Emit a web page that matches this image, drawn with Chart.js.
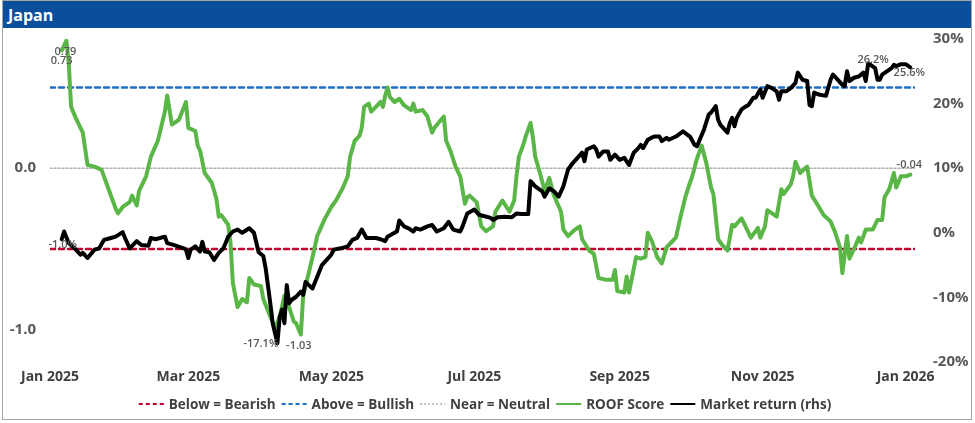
<!DOCTYPE html>
<html>
<head>
<meta charset="utf-8">
<title>Japan</title>
<script src="https://cdn.jsdelivr.net/npm/chart.js@4"></script>
<style>
  html, body { margin: 0; padding: 0; background: #fff; }
  body { width: 975px; height: 423px; position: relative; overflow: hidden; font-family: "Open Sans", sans-serif; }
  #frame { position: absolute; left: 2px; top: 0; width: 970px; height: 420px; border: 1px solid #a6a6a6; box-sizing: border-box; }
  #head { height: 27px; background: #0a4f9c; color: #fff; font-weight: 700; font-size: 16px; line-height: 28px; padding-left: 5px; }
  #chart { position: absolute; left: 0; top: 0; }
</style>
</head>
<body>
<div id="frame"><div id="head">Japan</div></div>
<canvas id="chart" width="975" height="423"></canvas>
<script>
// days counted from 1 Jan 2025
const tickDays = [0, 59, 120, 181, 243, 304, 365];
const tickLabels = ['Jan 2025', 'Mar 2025', 'May 2025', 'Jul 2025', 'Sep 2025', 'Nov 2025', 'Jan 2026'];
const axisEnd = 369;

const bearishLevel = -0.5;
const bullishLevel = 0.5;
const neutralLevel = 0;

const scoreDays = [5,7,8,9,11,14,16,19,22,24,28,29,31,34,35,37,38,41,43,46,49,50,52,55,58,59,62,63,64,66,69,71,72,73,76,77,78,80,82,84,85,87,90,91,94,96,98,100,102,104,105,107,108,110,112,114,117,120,122,125,127,128,130,132,133,134,136,137,139,141,142,143,144,145,147,149,151,154,155,156,159,161,163,164,168,169,171,173,175,177,178,179,182,184,186,189,190,193,196,198,199,200,202,203,205,206,207,209,211,213,215,218,219,221,224,226,227,230,232,234,237,240,241,242,245,246,247,250,252,254,255,257,259,261,263,265,267,269,271,273,274,276,278,280,282,283,285,287,289,291,292,295,296,299,302,303,305,306,310,312,313,316,317,318,320,323,325,328,330,333,335,337,338,340,341,343,345,346,348,351,353,355,356,358,360,361,363,365,367];
const scoreValues = [0.73,0.79,0.65,0.38,0.31,0.22,0.02,0.01,-0.01,-0.09,-0.25,-0.28,-0.24,-0.21,-0.17,-0.23,-0.14,-0.05,0.07,0.17,0.35,0.45,0.27,0.30,0.41,0.25,0.23,0.14,0.11,-0.03,-0.09,-0.19,-0.30,-0.29,-0.35,-0.46,-0.71,-0.86,-0.81,-0.83,-0.68,-0.72,-0.73,-0.81,-0.92,-0.99,-0.92,-0.79,-0.86,-0.95,-0.96,-1.03,-0.79,-0.67,-0.55,-0.42,-0.32,-0.24,-0.20,-0.12,-0.05,0.07,0.17,0.20,0.25,0.38,0.40,0.35,0.38,0.41,0.38,0.45,0.50,0.44,0.41,0.43,0.39,0.36,0.40,0.35,0.36,0.32,0.22,0.25,0.32,0.17,0.10,0.01,-0.05,-0.22,-0.18,-0.17,-0.21,-0.36,-0.39,-0.36,-0.27,-0.20,-0.27,-0.20,-0.05,0.07,0.15,0.20,0.28,0.19,0.07,-0.03,-0.14,-0.06,-0.17,-0.27,-0.38,-0.42,-0.38,-0.36,-0.44,-0.51,-0.53,-0.68,-0.69,-0.69,-0.63,-0.76,-0.77,-0.67,-0.77,-0.55,-0.56,-0.55,-0.40,-0.46,-0.55,-0.59,-0.49,-0.46,-0.43,-0.30,-0.18,-0.09,-0.05,0.06,0.14,0.03,-0.12,-0.16,-0.44,-0.48,-0.51,-0.35,-0.36,-0.31,-0.34,-0.43,-0.37,-0.43,-0.36,-0.26,-0.30,-0.13,-0.16,-0.10,-0.05,0.04,-0.03,0.01,-0.17,-0.24,-0.29,-0.33,-0.40,-0.49,-0.65,-0.42,-0.56,-0.50,-0.43,-0.46,-0.38,-0.38,-0.32,-0.32,-0.18,-0.13,-0.03,-0.12,-0.05,-0.05,-0.04];

const returnDays = [5,6,8,11,13,14,16,19,21,23,26,28,31,32,34,37,39,42,43,45,49,50,53,57,58,59,60,62,64,65,66,68,70,72,74,76,78,80,82,85,87,89,91,92,94,95,97,98,99,100,101,102,103,105,107,108,109,111,112,114,116,118,120,121,124,127,129,131,133,135,139,141,143,144,146,148,149,151,153,155,156,158,161,163,165,168,170,172,175,176,178,181,183,185,188,189,191,194,197,199,201,204,205,207,210,211,213,215,217,219,221,223,225,227,228,229,232,233,234,236,238,239,241,243,245,247,249,251,252,253,255,257,258,260,261,263,264,267,270,273,275,276,279,281,282,284,285,286,289,290,291,292,293,295,297,298,300,301,303,304,306,308,310,311,312,314,316,318,319,321,323,324,325,326,328,331,333,334,336,338,339,340,341,343,345,347,348,349,350,352,353,354,355,357,359,360,361,363,365,367];
const returnValues = [-1.0,0.2,-1.6,-2.6,-3.4,-3.1,-3.9,-2.6,-2.4,-1.1,-0.8,-0.6,0.1,-0.8,-2.4,-1.3,-1.9,-2.0,-0.8,-1.0,-0.6,-1.6,-1.9,-2.4,-2.6,-3.9,-2.6,-2.1,-2.9,-1.4,-2.9,-3.0,-4.2,-3.1,-2.4,-0.6,0.2,0.5,0.0,0.7,0.0,-3.0,-3.6,-5.5,-11.0,-14.0,-17.1,-13.0,-11.9,-14.0,-8.1,-10.9,-10.4,-9.9,-9.1,-9.6,-7.6,-8.3,-8.6,-6.8,-5.0,-4.2,-3.4,-2.6,-2.4,-2.1,-1.1,-0.8,0.5,-0.8,-0.8,-1.0,-1.3,-0.6,-0.2,0.2,1.9,1.0,0.7,0.2,0.7,0.5,1.0,1.2,0.2,0.7,1.7,0.5,0.2,1.0,3.0,3.6,2.8,2.6,2.3,2.0,2.4,2.5,2.4,3.0,2.9,2.9,8.0,7.2,6.4,5.6,6.9,6.4,5.6,7.2,9.8,10.8,11.6,12.4,11.1,12.9,13.4,12.9,11.8,12.6,12.6,11.3,12.1,11.3,11.6,10.5,12.4,13.1,13.6,13.1,14.4,14.8,14.9,14.9,14.2,14.7,14.4,14.9,15.7,14.9,13.6,13.4,16.0,18.3,18.6,19.6,17.5,16.7,15.5,17.0,17.8,16.5,17.8,19.1,19.6,19.8,20.9,20.9,22.2,20.9,22.7,22.4,21.9,20.6,21.9,21.9,22.4,23.2,24.8,23.7,23.5,19.8,19.6,21.7,21.4,21.2,23.7,24.5,23.7,22.9,22.7,25.0,23.5,24.0,24.2,24.8,23.5,26.2,26.0,25.5,23.7,23.7,24.5,25.0,25.5,26.0,25.8,26.1,26.1,25.6];

const FONT = '"Open Sans", "Noto Sans", sans-serif';

function toPoints(days, values) {
  return days.map((d, i) => ({ x: d, y: values[i] }));
}

function levelLine(level) {
  return [{ x: 0, y: level }, { x: axisEnd, y: level }];
}

// first, max, min and last value of a series get a small label
function extremes(values) {
  let hi = 0, lo = 0;
  values.forEach((v, i) => {
    if (v > values[hi]) hi = i;
    if (v < values[lo]) lo = i;
  });
  return { first: 0, hi: hi, lo: lo, last: values.length - 1 };
}

const sx = extremes(scoreValues);
const rx = extremes(returnValues);
const fmtScore = v => v.toFixed(2);
const fmtReturn = v => v.toFixed(1) + '%';

const scoreNotes = [
  { index: sx.first, text: fmtScore(scoreValues[sx.first]), dx: 0, dy: 11 },
  { index: sx.hi, text: fmtScore(scoreValues[sx.hi]), dx: -1, dy: 11 },
  { index: sx.lo, text: fmtScore(scoreValues[sx.lo]), dx: -2, dy: 11 },
  { index: sx.last, text: fmtScore(scoreValues[sx.last]), dx: -1, dy: -10 }
];
const returnNotes = [
  { index: rx.first, text: fmtReturn(returnValues[rx.first]), dx: 1, dy: 6 },
  { index: rx.lo, text: fmtReturn(returnValues[rx.lo]), dx: 1, dy: 1, align: 'right' },
  { index: rx.hi, text: fmtReturn(returnValues[rx.hi]), dx: 5, dy: -4 },
  { index: rx.last, text: fmtReturn(returnValues[rx.last]), dx: -1, dy: 5 }
];

const pointNotes = {
  id: 'pointNotes',
  afterDatasetsDraw(chart) {
    const ctx = chart.ctx;
    ctx.save();
    ctx.font = '600 11px ' + FONT;
    ctx.fillStyle = '#595959';
    ctx.textBaseline = 'middle';
    chart.data.datasets.forEach((ds, i) => {
      if (!ds.notes) return;
      const meta = chart.getDatasetMeta(i);
      ds.notes.forEach(n => {
        const pt = meta.data[n.index];
        ctx.textAlign = n.align || 'center';
        ctx.fillText(n.text, pt.x + n.dx, pt.y + n.dy);
      });
    });
    ctx.restore();
  }
};

// key along the bottom, one entry per dataset
const bottomKey = {
  id: 'bottomKey',
  afterDraw(chart) {
    const ctx = chart.ctx;
    ctx.save();
    ctx.font = 'bold 13.5px ' + FONT;
    const sample = 25, gapText = 5, gapItem = 6;
    const items = chart.data.datasets.map(ds => ({ ds: ds, w: sample + gapText + ctx.measureText(ds.label).width }));
    const total = items.reduce((s, it) => s + it.w, 0) + gapItem * (items.length - 1);
    let x = 485 - total / 2;
    const y = 404;
    items.forEach(it => {
      ctx.strokeStyle = it.ds.borderColor;
      ctx.lineWidth = it.ds.keyWidth;
      ctx.setLineDash(it.ds.keyDash || []);
      ctx.beginPath();
      ctx.moveTo(x, y);
      ctx.lineTo(x + sample, y);
      ctx.stroke();
      ctx.setLineDash([]);
      ctx.fillStyle = '#404040';
      ctx.textAlign = 'left';
      ctx.textBaseline = 'middle';
      ctx.fillText(it.ds.label, x + sample + gapText, y + 1);
      x += it.w + gapItem;
    });
    ctx.restore();
  }
};

const ctx = document.getElementById('chart').getContext('2d');
new Chart(ctx, {
  type: 'line',
  data: {
    datasets: [
      {
        label: 'Below = Bearish',
        data: levelLine(bearishLevel),
        yAxisID: 'y',
        borderColor: '#c0002f',
        borderWidth: 2.5,
        borderDash: [5, 4],
        keyWidth: 2,
        keyDash: [4, 3],
        order: 4
      },
      {
        label: 'Above = Bullish',
        data: levelLine(bullishLevel),
        yAxisID: 'y',
        borderColor: '#1f6fc0',
        borderWidth: 2.5,
        borderDash: [5, 4],
        keyWidth: 2,
        keyDash: [4, 3],
        order: 3
      },
      {
        label: 'Near = Neutral',
        data: levelLine(neutralLevel),
        yAxisID: 'y',
        borderColor: '#b0b0b0',
        borderWidth: 1.5,
        borderDash: [2, 2],
        keyWidth: 1.5,
        keyDash: [2, 2],
        order: 2
      },
      {
        label: 'ROOF Score',
        data: toPoints(scoreDays, scoreValues),
        yAxisID: 'y',
        borderColor: '#5ab646',
        borderWidth: 4,
        keyWidth: 2,
        notes: scoreNotes,
        order: 1
      },
      {
        label: 'Market return (rhs)',
        data: toPoints(returnDays, returnValues),
        yAxisID: 'y2',
        borderColor: '#000000',
        borderWidth: 4,
        keyWidth: 2,
        notes: returnNotes,
        order: 0
      }
    ]
  },
  options: {
    responsive: false,
    animation: false,
    events: [],
    layout: { padding: { top: 39, bottom: 36, left: 0, right: 0 } },
    elements: {
      point: { radius: 0 },
      line: { tension: 0, fill: false, borderJoinStyle: 'round', borderCapStyle: 'round' }
    },
    plugins: {
      legend: { display: false },
      tooltip: { enabled: false },
      title: { display: false }
    },
    scales: {
      x: {
        type: 'linear',
        min: 0,
        max: axisEnd,
        grid: { display: false, drawTicks: false },
        border: { display: false },
        afterBuildTicks: s => { s.ticks = tickDays.map(v => ({ value: v })); },
        afterFit: s => { s.height = 25; },
        ticks: {
          autoSkip: false,
          maxRotation: 0,
          padding: 7,
          color: '#404040',
          font: { family: FONT, size: 14, weight: 'bold' },
          callback: v => tickLabels[tickDays.indexOf(v)]
        }
      },
      y: {
        position: 'left',
        min: -1.2,
        max: 0.8,
        grid: { display: false, drawTicks: false },
        border: { display: false },
        afterBuildTicks: s => { s.ticks = [{ value: -1 }, { value: 0 }]; },
        afterFit: s => { s.width = 50; },
        ticks: {
          padding: 14,
          color: '#595959',
          font: { family: FONT, size: 15, weight: 'bold' },
          callback: v => v.toFixed(1)
        }
      },
      y2: {
        position: 'right',
        min: -20,
        max: 30,
        grid: { display: false, drawTicks: false },
        border: { display: false },
        afterFit: s => { s.width = 60; },
        ticks: {
          stepSize: 10,
          padding: 18,
          color: '#595959',
          font: { family: FONT, size: 15, weight: 'bold' },
          callback: v => v + '%'
        }
      }
    }
  },
  plugins: [pointNotes, bottomKey]
});
</script>
</body>
</html>
